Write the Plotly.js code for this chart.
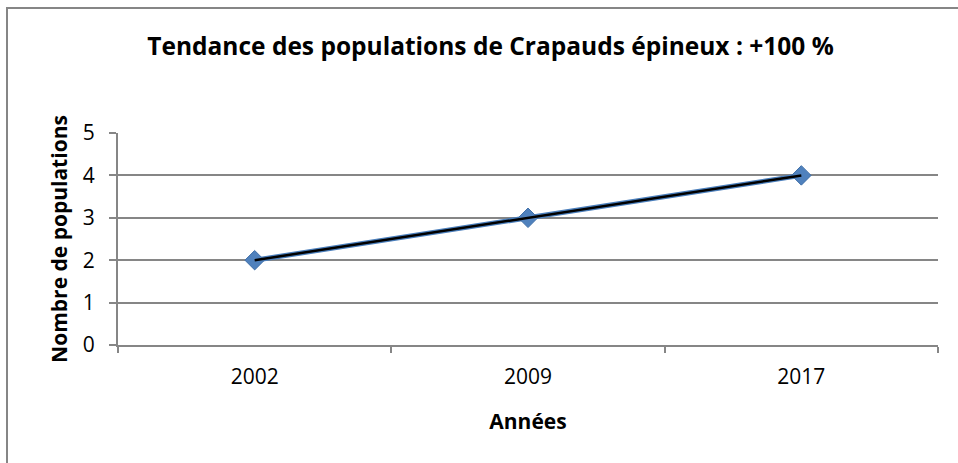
<!DOCTYPE html>
<html>
<head>
<meta charset="utf-8">
<script src="https://cdn.plot.ly/plotly-3.0.1.min.js"></script>
<style>
  body { margin: 0; background: #fff; }
  #chart { width: 958px; height: 463px; }
</style>
</head>
<body>
<div id="chart"></div>
<script>
// data
const years = ['2002', '2009', '2017'];
const populations = [2, 3, 4];
const trendValues = [2, 3, 4]; // linear trendline (black)

const fontFamily = 'Open Sans, Liberation Sans, sans-serif';

const series = {
  x: years,
  y: populations,
  mode: 'lines+markers',
  line: { color: '#4a7ebb', width: 5 },
  marker: { symbol: 'diamond', size: 15, color: '#4f81bd', line: { color: '#3f6fa8', width: 1 } },
  hoverinfo: 'skip',
};

const trend = {
  x: years,
  y: trendValues,
  mode: 'lines',
  line: { color: '#000000', width: 2.5 },
  hoverinfo: 'skip',
};

const layout = {
  width: 958,
  height: 463,
  margin: { l: 118, r: 20, t: 133, b: 118 },
  paper_bgcolor: '#ffffff',
  plot_bgcolor: '#ffffff',
  showlegend: false,
  font: { family: fontFamily, color: '#000000', size: 21 },
  title: {
    text: 'Tendance des populations de Crapauds épineux : +100 %',
    font: { family: fontFamily, size: 24.5, weight: 'bold', color: '#000000' },
    x: 0.512,
    xanchor: 'center',
    y: 0.9,
    yanchor: 'middle',
  },
  xaxis: {
    type: 'category',
    range: [-0.5, 2.5],
    tickson: 'boundaries',
    ticks: 'outside',
    ticklen: 6,
    tickcolor: '#868686',
    tickwidth: 2,
    showgrid: false,
    showline: true,
    linecolor: '#868686',
    linewidth: 2,
    tickfont: { size: 21 },
    ticklabelstandoff: 12,
    title: { text: 'Années', font: { size: 21, weight: 'bold' }, standoff: 25 },
    fixedrange: true,
  },
  yaxis: {
    range: [0, 5],
    dtick: 1,
    ticks: 'outside',
    ticklen: 7,
    tickcolor: '#868686',
    tickwidth: 2,
    showgrid: true,
    gridcolor: '#868686',
    gridwidth: 2,
    zeroline: false,
    showline: true,
    linecolor: '#868686',
    linewidth: 2,
    tickfont: { size: 21 },
    ticklabelstandoff: 10,
    title: { text: 'Nombre de populations', font: { size: 21, weight: 'bold' }, standoff: 9 },
    fixedrange: true,
  },
  shapes: [
    // chart-area border (left and top edges visible)
    {
      type: 'rect', xref: 'paper', yref: 'paper',
      x0: -111 / 820, x1: 1.2, y0: -0.6, y1: (463 - 8 - 118) / 212,
      line: { color: '#868686', width: 2 },
    },
  ],
};

Plotly.newPlot('chart', [series, trend], layout, { staticPlot: true });
</script>
</body>
</html>
